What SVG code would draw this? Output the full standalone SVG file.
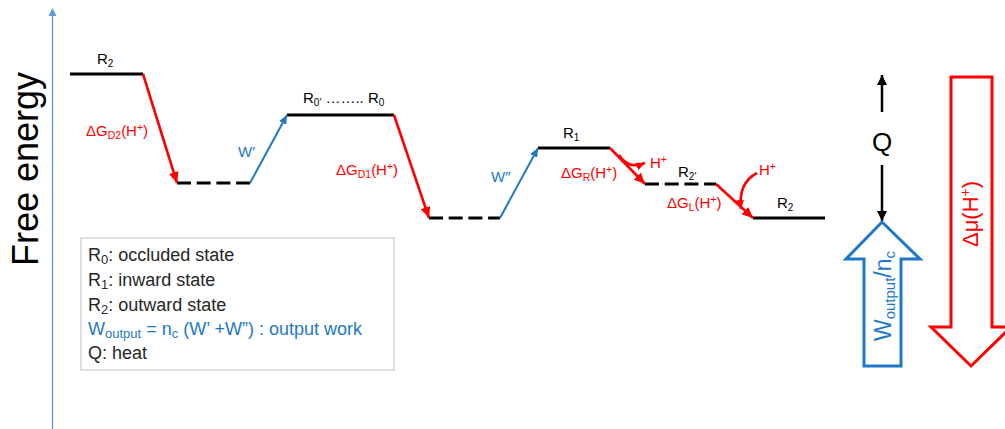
<svg xmlns="http://www.w3.org/2000/svg" width="1005" height="429" viewBox="0 0 1005 429">
<style>
text{font-family:"Liberation Sans",Arial,sans-serif;}
.lbl{font-size:15px;fill:#000;}
.red{font-size:15px;fill:#ff0000;}
.blu{font-size:15px;fill:#1e78c8;}
.lvl{stroke:#000;stroke-width:3;fill:none;}
.dash{stroke-dasharray:14 5.7;}
.ra{stroke:#ff0000;stroke-width:2.6;fill:none;}
.ba{stroke:#1e78c8;stroke-width:2;fill:none;}
.ka{stroke:#000;stroke-width:2.5;fill:none;}
.leg{font-size:18px;fill:#262626;}
</style>
<defs>
<marker id="mr" markerUnits="userSpaceOnUse" markerWidth="12" markerHeight="10" refX="11" refY="5" orient="auto"><path d="M0,0 L11,5 L0,10 Z" fill="#ff0000"/></marker>
<marker id="mrs" markerUnits="userSpaceOnUse" markerWidth="10" markerHeight="8" refX="9" refY="4" orient="auto"><path d="M0,0 L9,4 L0,8 Z" fill="#ff0000"/></marker>
<marker id="mb" markerUnits="userSpaceOnUse" markerWidth="10" markerHeight="8" refX="9" refY="4" orient="auto"><path d="M0,0 L9,4 L0,8 Z" fill="#1e78c8"/></marker>
<marker id="mk" markerUnits="userSpaceOnUse" markerWidth="11" markerHeight="10" refX="10" refY="5" orient="auto"><path d="M0,0 L10,5 L0,10 Z" fill="#000"/></marker>
</defs>
<rect width="1005" height="429" fill="#fff"/>

<g id="axis">
<line x1="52.5" y1="429" x2="52.5" y2="14" stroke="#5b9bd5" stroke-width="1.3"/>
<path d="M52.5,8 L56.5,16 L48.5,16 Z" fill="#5b9bd5"/>
<text transform="translate(38,169) rotate(-90)" text-anchor="middle" style="font-size:36px;fill:#000">Free energy</text>
</g>

<g id="R2-left">
<line class="lvl" x1="70" y1="74" x2="143" y2="74"/>
<text class="lbl" x="97" y="64">R<tspan font-size="10" dy="3">2</tspan></text>
</g>
<g id="int1">
<line class="lvl dash" x1="177" y1="183" x2="250" y2="183"/>
</g>
<g id="R0">
<line class="lvl" x1="287" y1="115" x2="394" y2="115"/>
<text class="lbl" x="303" y="103">R<tspan font-size="10" dy="3">0′</tspan><tspan dy="-3"> …….. R</tspan><tspan font-size="10" dy="3">0</tspan></text>
</g>
<g id="int2">
<line class="lvl dash" x1="429" y1="218" x2="500" y2="218"/>
</g>
<g id="R1">
<line class="lvl" x1="538" y1="148" x2="610" y2="148"/>
<text class="lbl" x="563" y="138">R<tspan font-size="10" dy="3">1</tspan></text>
</g>
<g id="R2p">
<line class="lvl dash" x1="645" y1="184" x2="716" y2="184"/>
<text class="lbl" x="678" y="177">R<tspan font-size="10" dy="3">2′</tspan></text>
</g>
<g id="R2-right">
<line class="lvl" x1="753" y1="218" x2="825" y2="218"/>
<text class="lbl" x="777" y="208">R<tspan font-size="10" dy="3">2</tspan></text>
</g>

<g id="connectors">
<line class="ra" x1="143" y1="74" x2="177" y2="183" marker-end="url(#mr)"/>
<line class="ba" x1="250" y1="183" x2="287" y2="115" marker-end="url(#mb)"/>
<line class="ra" x1="394" y1="115" x2="429" y2="218" marker-end="url(#mr)"/>
<line class="ba" x1="500" y1="218" x2="538" y2="148" marker-end="url(#mb)"/>
<line class="ra" x1="610" y1="148" x2="645" y2="184" marker-end="url(#mr)"/>
<path class="ra" d="M619,155 Q628,170 645,163" stroke-width="2" marker-end="url(#mrs)"/>
<line class="ra" x1="716" y1="184" x2="753" y2="218" marker-end="url(#mr)"/>
<path class="ra" d="M757,173 Q738,183 741,209" stroke-width="2" marker-end="url(#mrs)"/>
<line class="ka" x1="882" y1="112" x2="882" y2="75" marker-end="url(#mk)"/>
<line class="ka" x1="882" y1="165" x2="882" y2="221" marker-end="url(#mk)"/>
</g>

<g id="labels">
<text class="red" x="86" y="136">ΔG<tspan font-size="10.5" dy="3">D2</tspan><tspan dy="-3">(H</tspan><tspan font-size="10.5" dy="-5">+</tspan><tspan dy="5">)</tspan></text>
<text class="blu" x="238" y="157">W′</text>
<text class="red" x="336" y="175">ΔG<tspan font-size="10.5" dy="3">D1</tspan><tspan dy="-3">(H</tspan><tspan font-size="10.5" dy="-5">+</tspan><tspan dy="5">)</tspan></text>
<text class="blu" x="491" y="182">W″</text>
<text class="red" x="561" y="178">ΔG<tspan font-size="10.5" dy="3">R</tspan><tspan dy="-3">(H</tspan><tspan font-size="10.5" dy="-5">+</tspan><tspan dy="5">)</tspan></text>
<text class="red" x="650" y="168">H<tspan font-size="10.5" dy="-5">+</tspan></text>
<text class="red" x="759" y="175">H<tspan font-size="10.5" dy="-5">+</tspan></text>
<text class="red" x="667" y="208">ΔG<tspan font-size="10.5" dy="3">L</tspan><tspan dy="-3">(H</tspan><tspan font-size="10.5" dy="-5">+</tspan><tspan dy="5">)</tspan></text>
</g>

<g id="legend">
<rect x="81" y="238" width="313" height="132" fill="#fff" stroke="#bfbfbf" stroke-width="1"/>
<text class="leg" x="88" y="261">R<tspan font-size="13" dy="3">0</tspan><tspan dy="-3">: occluded state</tspan></text>
<text class="leg" x="88" y="286">R<tspan font-size="13" dy="3">1</tspan><tspan dy="-3">: inward state</tspan></text>
<text class="leg" x="88" y="311">R<tspan font-size="13" dy="3">2</tspan><tspan dy="-3">: outward state</tspan></text>
<text class="leg" x="88" y="335" style="fill:#1e78c8">W<tspan font-size="13" dy="3">output</tspan><tspan dy="-3"> = n</tspan><tspan font-size="13" dy="3">c</tspan><tspan dy="-3"> (W’ +W”) : output work</tspan></text>
<text class="leg" x="88" y="359">Q: heat</text>
</g>

<g id="Q">
<text x="882" y="151" text-anchor="middle" style="font-size:26px;fill:#000">Q</text>
</g>

<g id="W-output-arrow">
<path d="M882,222 L920,259 L901,259 L901,366 L864,366 L864,259 L846,259 Z" fill="#fff" stroke="#1e78c8" stroke-width="3" stroke-linejoin="miter"/>
<text transform="translate(891,296) rotate(-90)" text-anchor="middle" style="font-size:23px;fill:#1e78c8">W<tspan font-size="15" dy="4">output</tspan><tspan dy="-4">/n</tspan><tspan font-size="15" dy="4">c</tspan></text>
</g>

<g id="dmu-arrow">
<path d="M951,77 L992,77 L992,327 L1011,327 L971,366 L931,327 L951,327 Z" fill="#fff" stroke="#ff0000" stroke-width="3" stroke-linejoin="miter"/>
<text transform="translate(978,214) rotate(-90)" text-anchor="middle" style="font-size:22px;fill:#ff0000">Δμ(H<tspan font-size="14" dy="-8">+</tspan><tspan dy="8">)</tspan></text>
</g>
</svg>
